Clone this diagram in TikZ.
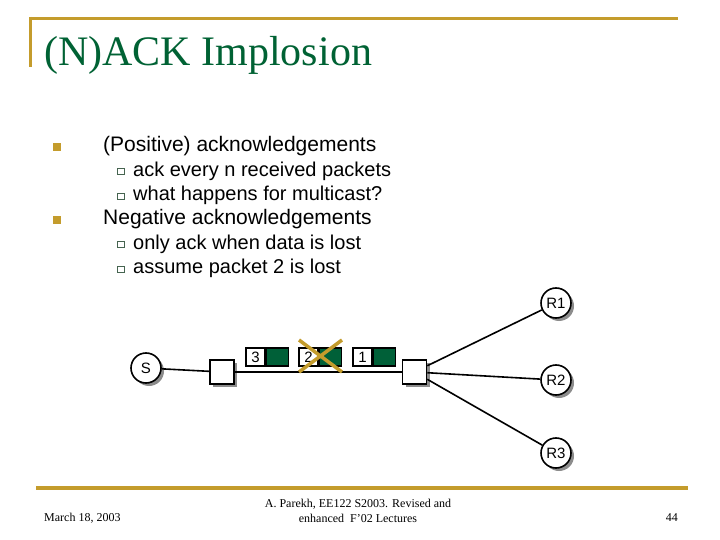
\documentclass[tikz,border=0pt]{standalone}
\usepackage{fontspec}
\setmainfont{Liberation Serif}
\newfontfamily\arialf{Liberation Sans}
\usetikzlibrary{shadows}
\definecolor{gold}{RGB}{196,156,44}
\definecolor{titlegreen}{RGB}{0,98,52}
\definecolor{pktgreen}{RGB}{0,96,56}
\definecolor{subbul}{RGB}{70,100,80}
\begin{document}
\begin{tikzpicture}[x=1pt,y=-1pt,
  body/.style={anchor=base west,inner sep=0pt,font=\arialf\fontsize{21}{24}\selectfont},
  subbody/.style={anchor=base west,inner sep=0pt,font=\arialf\fontsize{20}{24}\selectfont},
  mainbul/.style={fill=gold,draw=none,minimum size=8pt,inner sep=0pt},
  subbul/.style={fill=white,draw=subbul,line width=0.8pt,minimum width=7pt,minimum height=6pt,inner sep=0pt},
  shad/.style={drop shadow={shadow xshift=3pt,shadow yshift=-3pt,fill=black!45,opacity=1}},
  hostnode/.style={circle,draw,fill=white,line width=1.6pt,minimum size=30pt,inner sep=0pt,shad,font=\arialf\fontsize{15}{15}\selectfont},
  router/.style={rectangle,draw,fill=white,line width=1.6pt,minimum size=24pt,inner sep=0pt,shad},
  pktnum/.style={rectangle,draw,fill=white,line width=1.3pt,minimum width=19pt,minimum height=18pt,inner sep=0pt,font=\arialf\fontsize{15}{15}\selectfont},
  pktbody/.style={rectangle,draw,fill=pktgreen,line width=1.3pt,minimum width=22pt,minimum height=18pt,inner sep=0pt},
  link/.style={line width=1.6pt},
  footer/.style={inner sep=0pt,font=\fontsize{12}{15}\selectfont}
]
\useasboundingbox (0,0) rectangle (720,540);
\fill[white] (0,0) rectangle (720,540);
% title frame
\draw[gold,line width=3pt] (30,18.3) -- (678,18.3);
\draw[gold,line width=3pt] (30,16.8) -- (30,67);
\node[anchor=base west,inner sep=0pt,text=titlegreen,font=\fontsize{42}{42}\selectfont] (title) at (44,66) {(N)ACK Implosion};
% bullets
\node[mainbul] (b1) at (57,147) {};
\node[body] (t1) at (103,152) {(Positive) acknowledgements};
\node[subbul] (s1) at (121,171.5) {};
\node[subbody] (t2) at (133,176.5) {ack every n received packets};
\node[subbul] (s2) at (121,196) {};
\node[subbody] (t3) at (133,200.8) {what happens for multicast?};
\node[mainbul] (b2) at (57,220) {};
\node[body] (t4) at (103,225) {Negative acknowledgements};
\node[subbul] (s3) at (121,244.5) {};
\node[subbody] (t5) at (133,249.4) {only ack when data is lost};
\node[subbul] (s4) at (121,269) {};
\node[subbody] (t6) at (133,273.7) {assume packet 2 is lost};
% network
\node[hostnode] (S) at (146,368) {S};
\node[router] (sq1) at (222,372) {};
\node[router] (sq2) at (414.5,372) {};
\node[hostnode] (R1) at (556,303) {R1};
\node[hostnode] (R2) at (556,380) {R2};
\node[hostnode] (R3) at (556,453) {R3};
\draw[link] (S) -- (sq1);
\draw[link] (sq1) -- (sq2);
\draw[link] (sq2) -- (R1);
\draw[link] (sq2) -- (R2);
\draw[link] (sq2) -- (R3);
% packets
\node[pktnum] (p3n) at (255.5,357) {3};
\node[pktbody,anchor=west] (p3g) at (p3n.east) {};
\node[pktnum] (p2n) at (308.5,357) {2};
\node[pktbody,anchor=west] (p2g) at (p2n.east) {};
\node[pktnum] (p1n) at (362.5,357) {1};
\node[pktbody,anchor=west] (p1g) at (p1n.east) {};
% cross
\draw[gold,line width=3.5pt] (299,340) -- (342,372);
\draw[gold,line width=3.5pt] (299,372) -- (342,340);
% footer
\draw[gold,line width=3.5pt] (36,488) -- (688,488);
\node[footer,anchor=base west] (date) at (44,521) {March 18, 2003};
\node[footer,align=center,anchor=base] (credit) at (358,522) {A. Parekh, EE122 S2003. Revised and\\ enhanced\ \ F'02 Lectures};
\node[footer,anchor=base east] (page) at (678,521) {44};
\end{tikzpicture}
\end{document}
